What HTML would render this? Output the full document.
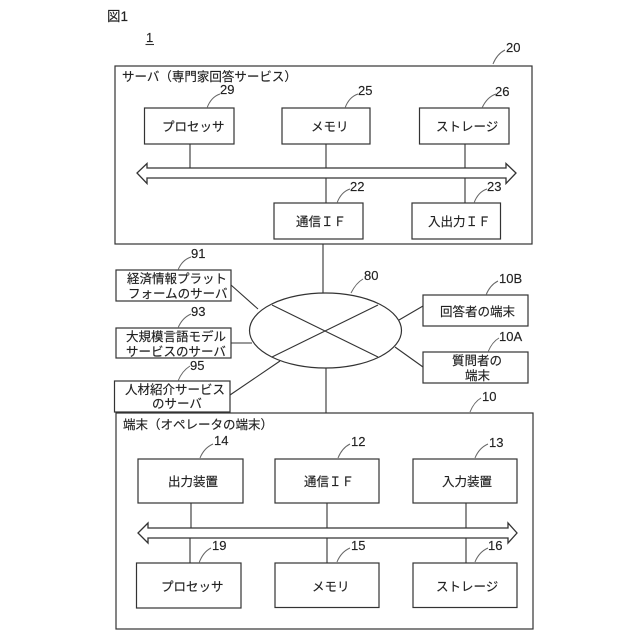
<!DOCTYPE html>
<html lang="ja"><head><meta charset="utf-8"><style>
html,body{margin:0;padding:0;background:#fff;width:640px;height:640px;overflow:hidden}
svg{display:block;filter:blur(0.3px)}
text{font-family:"Liberation Sans","Noto Sans CJK JP",sans-serif;font-size:12.5px;fill:#222;stroke:#222;stroke-width:0.15px}
.n{font-size:13px}
.b{fill:#fff;stroke:#333;stroke-width:1.2}
.l{fill:none;stroke:#333;stroke-width:1.1}
.t{fill:none;stroke:#666;stroke-width:1}
</style></head><body>
<svg width="640" height="640" viewBox="0 0 640 640" xmlns="http://www.w3.org/2000/svg">
<text x="107" y="21" style="font-size:13.500px">図1</text>
<text x="146" y="42" class="n">1</text>
<path class="l" d="M145.500 44.500H154"/>

<!-- connections -->
<path class="l" d="M323 244V293M326 368V413M231 285L258 309M231 343H252M230 395L280 361M399 320L423 306M395 347L423 367"/>

<!-- server -->
<rect class="b" x="115" y="66" width="417" height="178"/>
<text x="122" y="81">サーバ（専門家回答サービス）</text>
<path class="l" d="M190 144V168M326 144V168M326 178V203M465 144V168M465 178V203"/>
<rect class="b" x="144.500" y="108" width="89.500" height="36"/>
<rect class="b" x="282" y="108" width="88" height="36"/>
<rect class="b" x="419.500" y="108" width="89.500" height="36"/>
<rect class="b" x="274" y="203" width="89" height="36"/>
<rect class="b" x="412" y="203" width="88.500" height="36"/>
<path class="l" style="stroke-width:1.3" fill="none" d="M147 168H506V163.500L516 173L506 183.500V178H147V183.500L137 173L147 163.500Z"/>
<text x="162" y="131">プロセッサ</text>
<text x="311" y="131">メモリ</text>
<text x="436" y="131">ストレージ</text>
<text x="296" y="226">通信ＩＦ</text>
<text x="428" y="226">入出力ＩＦ</text>

<!-- number labels server -->
<path class="t" d="M207 108Q211 97 220 94M345 108Q349 97 358 94M482 108Q487 97 496 94M337 203Q341 192 350 189M474 203Q478 192 487 189M493 64Q497 54 505 50"/>
<text x="220" y="94" class="n">29</text>
<text x="358" y="95" class="n">25</text>
<text x="495" y="96" class="n">26</text>
<text x="350" y="191" class="n">22</text>
<text x="487" y="191" class="n">23</text>
<text x="506" y="52" class="n">20</text>

<!-- left boxes -->
<rect class="b" x="116" y="270" width="115" height="31"/>
<rect class="b" x="116" y="328" width="115" height="30"/>
<rect class="b" x="114.500" y="381" width="115.500" height="31"/>
<text x="127" y="283">経済情報プラット</text>
<text x="128" y="298">フォームのサーバ</text>
<text x="126" y="341">大規模言語モデル</text>
<text x="126" y="356">サービスのサーバ</text>
<text x="125" y="394">人材紹介サービス</text>
<text x="152" y="408">のサーバ</text>
<path class="t" d="M178 270Q182 260 191 257M178 328Q182 318 191 314M178 381Q182 371 190 366"/>
<text x="191" y="258" class="n">91</text>
<text x="191" y="316" class="n">93</text>
<text x="190" y="370" class="n">95</text>

<!-- ellipse -->
<ellipse class="b" cx="325.500" cy="330.500" rx="76" ry="37.500"/>
<path class="l" d="M272 305L378 357M378 305L272 357"/>
<path class="t" d="M351 293Q356 283 363 279"/>
<text x="364" y="280" class="n">80</text>

<!-- right boxes -->
<rect class="b" x="423" y="295" width="105" height="31"/>
<rect class="b" x="423" y="352" width="105" height="31"/>
<text x="440" y="316">回答者の端末</text>
<text x="452" y="365">質問者の</text>
<text x="465" y="380">端末</text>
<path class="t" d="M486 295Q490 285 498 281M488 352Q492 342 499 338"/>
<text x="499" y="283" class="n">10B</text>
<text x="499" y="341" class="n">10A</text>

<!-- terminal -->
<rect class="b" x="116" y="413" width="417" height="216"/>
<text x="123" y="429">端末（オペレータの端末）</text>
<path class="t" d="M470 412Q474 402 481 398"/>
<text x="482" y="401" class="n">10</text>
<path class="l" d="M191 503V528M190 538V563M327 503V528M327 538V563M466 503V528M466 538V563"/>
<rect class="b" x="138" y="459" width="105" height="44"/>
<rect class="b" x="275" y="459" width="104" height="44"/>
<rect class="b" x="413" y="459" width="104" height="44"/>
<rect class="b" x="136.500" y="563" width="104.500" height="45"/>
<rect class="b" x="275" y="563" width="104" height="44.500"/>
<rect class="b" x="413" y="563" width="104" height="44.500"/>
<path class="l" style="stroke-width:1.300" fill="none" d="M148 528H508V523L517 533L508 543V538H148V543L138 533L148 523Z"/>
<text x="168" y="486">出力装置</text>
<text x="304" y="486">通信ＩＦ</text>
<text x="442" y="486">入力装置</text>
<text x="161" y="591">プロセッサ</text>
<text x="312" y="591">メモリ</text>
<text x="436" y="591">ストレージ</text>
<path class="t" d="M200 458Q204 448 213 444M338 458Q342 448 350 444M475 458Q479 448 488 444M199 563Q203 552 211 548M337 562Q341 552 350 548M475 562Q479 552 488 548"/>
<text x="214" y="445" class="n">14</text>
<text x="351" y="446" class="n">12</text>
<text x="489" y="447" class="n">13</text>
<text x="212" y="550" class="n">19</text>
<text x="351" y="550" class="n">15</text>
<text x="488" y="550" class="n">16</text>
</svg>
</body></html>
